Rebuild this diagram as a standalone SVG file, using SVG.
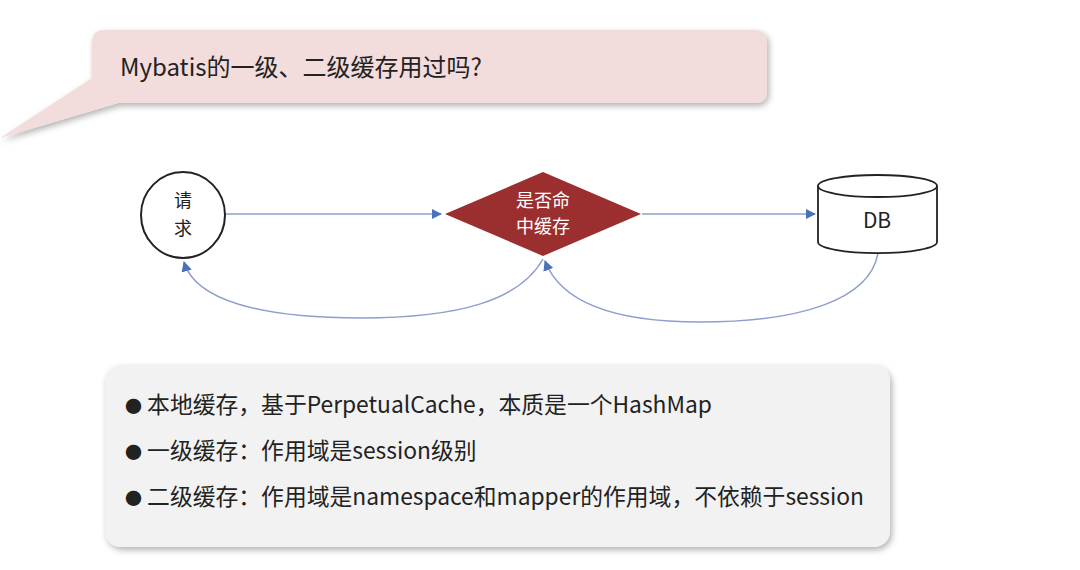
<svg xmlns="http://www.w3.org/2000/svg" width="1080" height="570" viewBox="0 0 1080 570">
<defs>
<style>
text{font-family:"Noto Sans CJK SC","Liberation Sans",sans-serif;fill:#222}
.c{fill:none;stroke:#8f9fcc;stroke-width:1.5}
.b{font-size:22.8px}
</style>
<marker id="a" viewBox="0 0 10 10" refX="9" refY="5" markerWidth="7" markerHeight="7" orient="auto-start-reverse"><path d="M0,0L10,5L0,10z" fill="#4a72b8"/></marker>
<filter id="s" x="-5%" y="-10%" width="110%" height="130%"><feDropShadow dx="2" dy="3" stdDeviation="3" flood-color="#000" flood-opacity="0.3"/></filter>
</defs>
<rect width="1080" height="570" fill="#fff"/>
<g id="callout">
<path d="M104,30H755Q767,30 767,42V91Q767,103 755,103H118L0,138L92,78V42Q92,30 104,30Z" fill="#f3dcdc" filter="url(#s)"/>
<text x="120" y="76" font-size="24">Mybatis的一级、二级缓存用过吗?</text>
</g>
<g id="connectors">
<path class="c" d="M226,214H441" marker-end="url(#a)"/>
<path class="c" d="M642,214H815" marker-end="url(#a)"/>
<path class="c" d="M543,259C520,300 460,318 360,318C260,318 195,300 184,262" marker-end="url(#a)"/>
<path class="c" d="M878,253C870,300 800,322 700,322C610,322 560,300 545,261" marker-end="url(#a)"/>
</g>
<g id="n-req">
<ellipse cx="183" cy="215" rx="42" ry="43" fill="#fff" stroke="#222" stroke-width="2"/>
<text x="183" y="207" font-size="18" text-anchor="middle">请</text>
<text x="183" y="235" font-size="18" text-anchor="middle">求</text>
</g>
<g id="n-hit">
<path d="M543,172L641,214L543,256L445,214Z" fill="#9b2f2f"/>
<text x="543" y="207" font-size="18" text-anchor="middle" style="fill:#fff">是否命</text>
<text x="543" y="233" font-size="18" text-anchor="middle" style="fill:#fff">中缓存</text>
</g>
<g id="n-db">
<path d="M818,186V242A59,11 0 0 0 937,242V186" fill="#fff" stroke="#222" stroke-width="1.8"/>
<ellipse cx="877.5" cy="186" rx="59.5" ry="11" fill="#fff" stroke="#222" stroke-width="1.8"/>
<text x="877" y="228" font-size="21" text-anchor="middle">DB</text>
</g>
<g id="notes">
<rect x="105" y="365" width="785" height="182" rx="16" fill="#f2f2f2" filter="url(#s)"/>
<text class="b" x="125" y="413"><tspan font-size="17">●</tspan> 本地缓存，基于PerpetualCache，本质是一个HashMap</text>
<text class="b" x="125" y="459"><tspan font-size="17">●</tspan> 一级缓存：作用域是session级别</text>
<text class="b" x="125" y="505"><tspan font-size="17">●</tspan> 二级缓存：作用域是namespace和mapper的作用域，不依赖于session</text>
</g>
</svg>
